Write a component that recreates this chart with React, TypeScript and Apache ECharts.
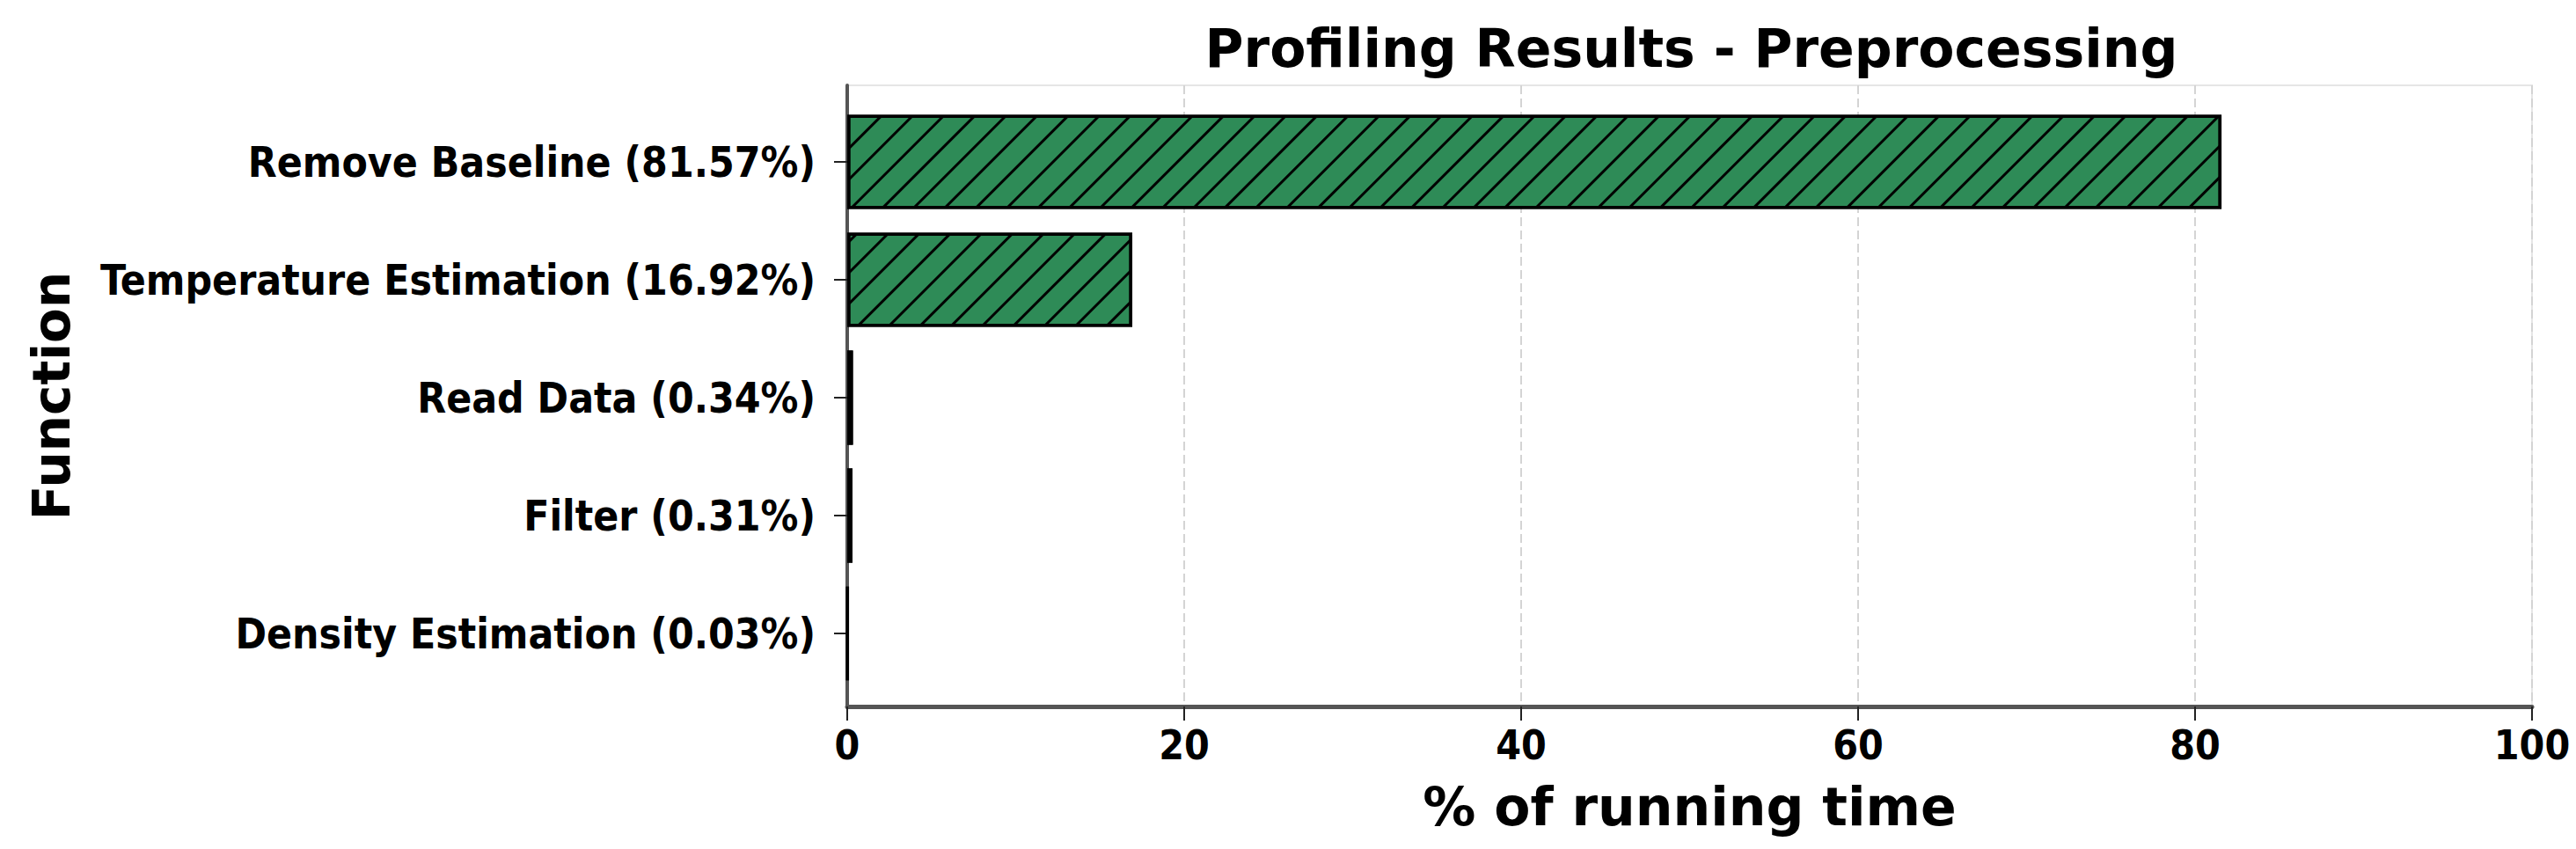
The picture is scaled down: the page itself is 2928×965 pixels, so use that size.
import React, { useEffect, useRef } from "react";
import * as echarts from "echarts";

const functionNames = ["Remove Baseline", "Temperature Estimation", "Read Data", "Filter", "Density Estimation"];
const runningTimePct = [81.57, 16.92, 0.34, 0.31, 0.03];
const xTicks = [0, 20, 40, 60, 80, 100];

const categoryLabels = functionNames.map((n, i) => `${n} (${runningTimePct[i].toFixed(2)}%)`);

const TICK_FONT = "'DejaVu Sans Condensed', 'DejaVu Sans', sans-serif";
const TITLE_FONT = "'DejaVu Sans', sans-serif";

export default function App() {
  const ref = useRef<HTMLDivElement>(null);
  useEffect(() => {
    if (!ref.current) return;
    const chart = echarts.init(ref.current, null, { renderer: "svg" });
    const plotLeft = 963;
    const plotWidth = 1915;
    chart.setOption({
      animation: false,
      backgroundColor: "#ffffff",
      title: {
        text: "Profiling Results - Preprocessing",
        left: plotLeft + plotWidth / 2 - 3,
        textAlign: "center",
        top: 20,
        textStyle: { fontFamily: TITLE_FONT, fontWeight: "bold", fontSize: 60, color: "#000" },
      },
      grid: [
        {
          left: plotLeft, top: 97, width: plotWidth, height: 706,
          show: true, borderColor: "#e6e6e6", borderWidth: 2, backgroundColor: "transparent",
        },
        { left: plotLeft, top: 117, width: plotWidth, height: 670 },
      ],
      xAxis: [
        {
          gridIndex: 0, type: "value", min: xTicks[0], max: xTicks[xTicks.length - 1], interval: 20,
          axisLine: { show: true, lineStyle: { color: "#555", width: 5 } },
          axisTick: { show: true, length: 16, lineStyle: { color: "#222", width: 2 } },
          axisLabel: { margin: 21, fontFamily: TICK_FONT, fontWeight: "bold", fontSize: 46, color: "#000" },
          splitLine: { show: true, lineStyle: { color: "#d4d4d4", width: 2, type: [10, 5] } },
          name: "% of running time",
          nameLocation: "middle",
          nameGap: 84,
          nameTextStyle: { fontFamily: TITLE_FONT, fontWeight: "bold", fontSize: 60, color: "#000" },
        },
        { gridIndex: 1, type: "value", min: 0, max: 100, show: false },
      ],
      yAxis: [
        {
          gridIndex: 0, type: "value", min: 0, max: 1,
          axisLine: { show: true, lineStyle: { color: "#555", width: 4 } },
          axisTick: { show: false }, axisLabel: { show: false }, splitLine: { show: false },
          name: "Function",
          nameLocation: "middle",
          nameRotate: 90,
          nameGap: 875,
          nameTextStyle: { fontFamily: TITLE_FONT, fontWeight: "bold", fontSize: 58, color: "#000" },
        },
        {
          gridIndex: 1, type: "category", inverse: true, data: categoryLabels,
          axisLine: { show: false },
          axisTick: { show: true, alignWithLabel: true, length: 15, lineStyle: { color: "#222", width: 2 } },
          axisLabel: { margin: 36, fontFamily: TICK_FONT, fontWeight: "bold", fontSize: 47.6, color: "#000" },
          splitLine: { show: false },
        },
      ],
      series: [
        {
          type: "bar",
          xAxisIndex: 1,
          yAxisIndex: 1,
          data: runningTimePct,
          barWidth: "80%",
          itemStyle: {
            color: "#2e8b57",
            borderColor: "#000",
            borderWidth: 3.5,
            decal: {
              symbol: "rect",
              symbolSize: 1,
              color: "#000",
              dashArrayX: [1, 0],
              dashArrayY: [3, 22],
              rotation: -Math.PI / 4,
            },
          },
        },
      ],
    });
    return () => chart.dispose();
  }, []);
  return <div ref={ref} style={{ position: "absolute", left: 0, top: 0, width: 2928, height: 965 }} />;
}
